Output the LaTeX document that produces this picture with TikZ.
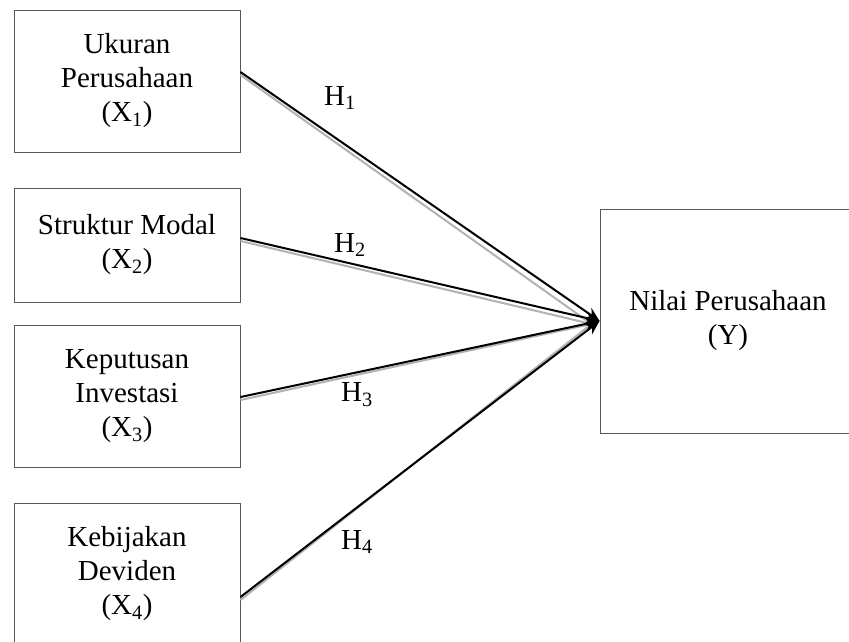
\documentclass[tikz,border=0pt]{standalone}
\usepackage{fontspec}
\setmainfont{Liberation Serif}
\usetikzlibrary{arrows.meta}
\tikzset{
  varbox/.style={draw=black!65, line width=0.9pt, rectangle, align=center,
    minimum width=226pt, font=\fontsize{29}{34}\selectfont},
  hyparrow/.style={line width=2pt, -{Stealth[length=14pt,width=12pt]}},
  hypshadow/.style={line width=2pt, gray!60},
  hyplabel/.style={font=\fontsize{29}{34}\selectfont, inner sep=0pt}
}
\begin{document}
\begin{tikzpicture}[x=1pt,y=-1pt]
\useasboundingbox (0,0) rectangle (849,641);
\node (ukuran)[varbox, minimum height=142pt] at (127,81) {Ukuran\\Perusahaan\\(X\textsubscript{1})};
\node (struktur)[varbox, minimum height=114pt] at (127,245) {Struktur Modal\\(X\textsubscript{2})};
\node (investasi)[varbox, minimum height=142pt] at (127,396) {Keputusan\\Investasi\\(X\textsubscript{3})};
\node (dividen)[varbox, minimum height=142pt] at (127,574) {Kebijakan\\Deviden\\(X\textsubscript{4})};
\node (nilai)[varbox, minimum width=256pt, minimum height=224pt] at (728,321) {Nilai Perusahaan\\(Y)};
% shadows
\draw[hypshadow] ([yshift=6pt]ukuran.east) -- ([xshift=-8pt,yshift=-3pt]nilai.west);
\draw[hypshadow] ([yshift=4pt]struktur.east) -- ([xshift=-8pt,yshift=-3pt]nilai.west);
\draw[hypshadow] ([yshift=-4pt]investasi.east) -- ([xshift=-8pt,yshift=-3pt]nilai.west);
\draw[hypshadow] ([yshift=-26pt]dividen.east) -- ([xshift=-8pt,yshift=-3pt]nilai.west);
% arrows
\draw[hyparrow] ([yshift=9pt]ukuran.east) -- (nilai.west);
\draw[hyparrow] ([yshift=7pt]struktur.east) -- (nilai.west);
\draw[hyparrow] ([yshift=-1pt]investasi.east) -- (nilai.west);
\draw[hyparrow] ([yshift=-23pt]dividen.east) -- (nilai.west);
\node (h1)[hyplabel] at (340,98) {H\textsubscript{1}};
\node (h2)[hyplabel] at (350,245) {H\textsubscript{2}};
\node (h3)[hyplabel] at (357,395) {H\textsubscript{3}};
\node (h4)[hyplabel] at (357,542) {H\textsubscript{4}};
\end{tikzpicture}
\end{document}
